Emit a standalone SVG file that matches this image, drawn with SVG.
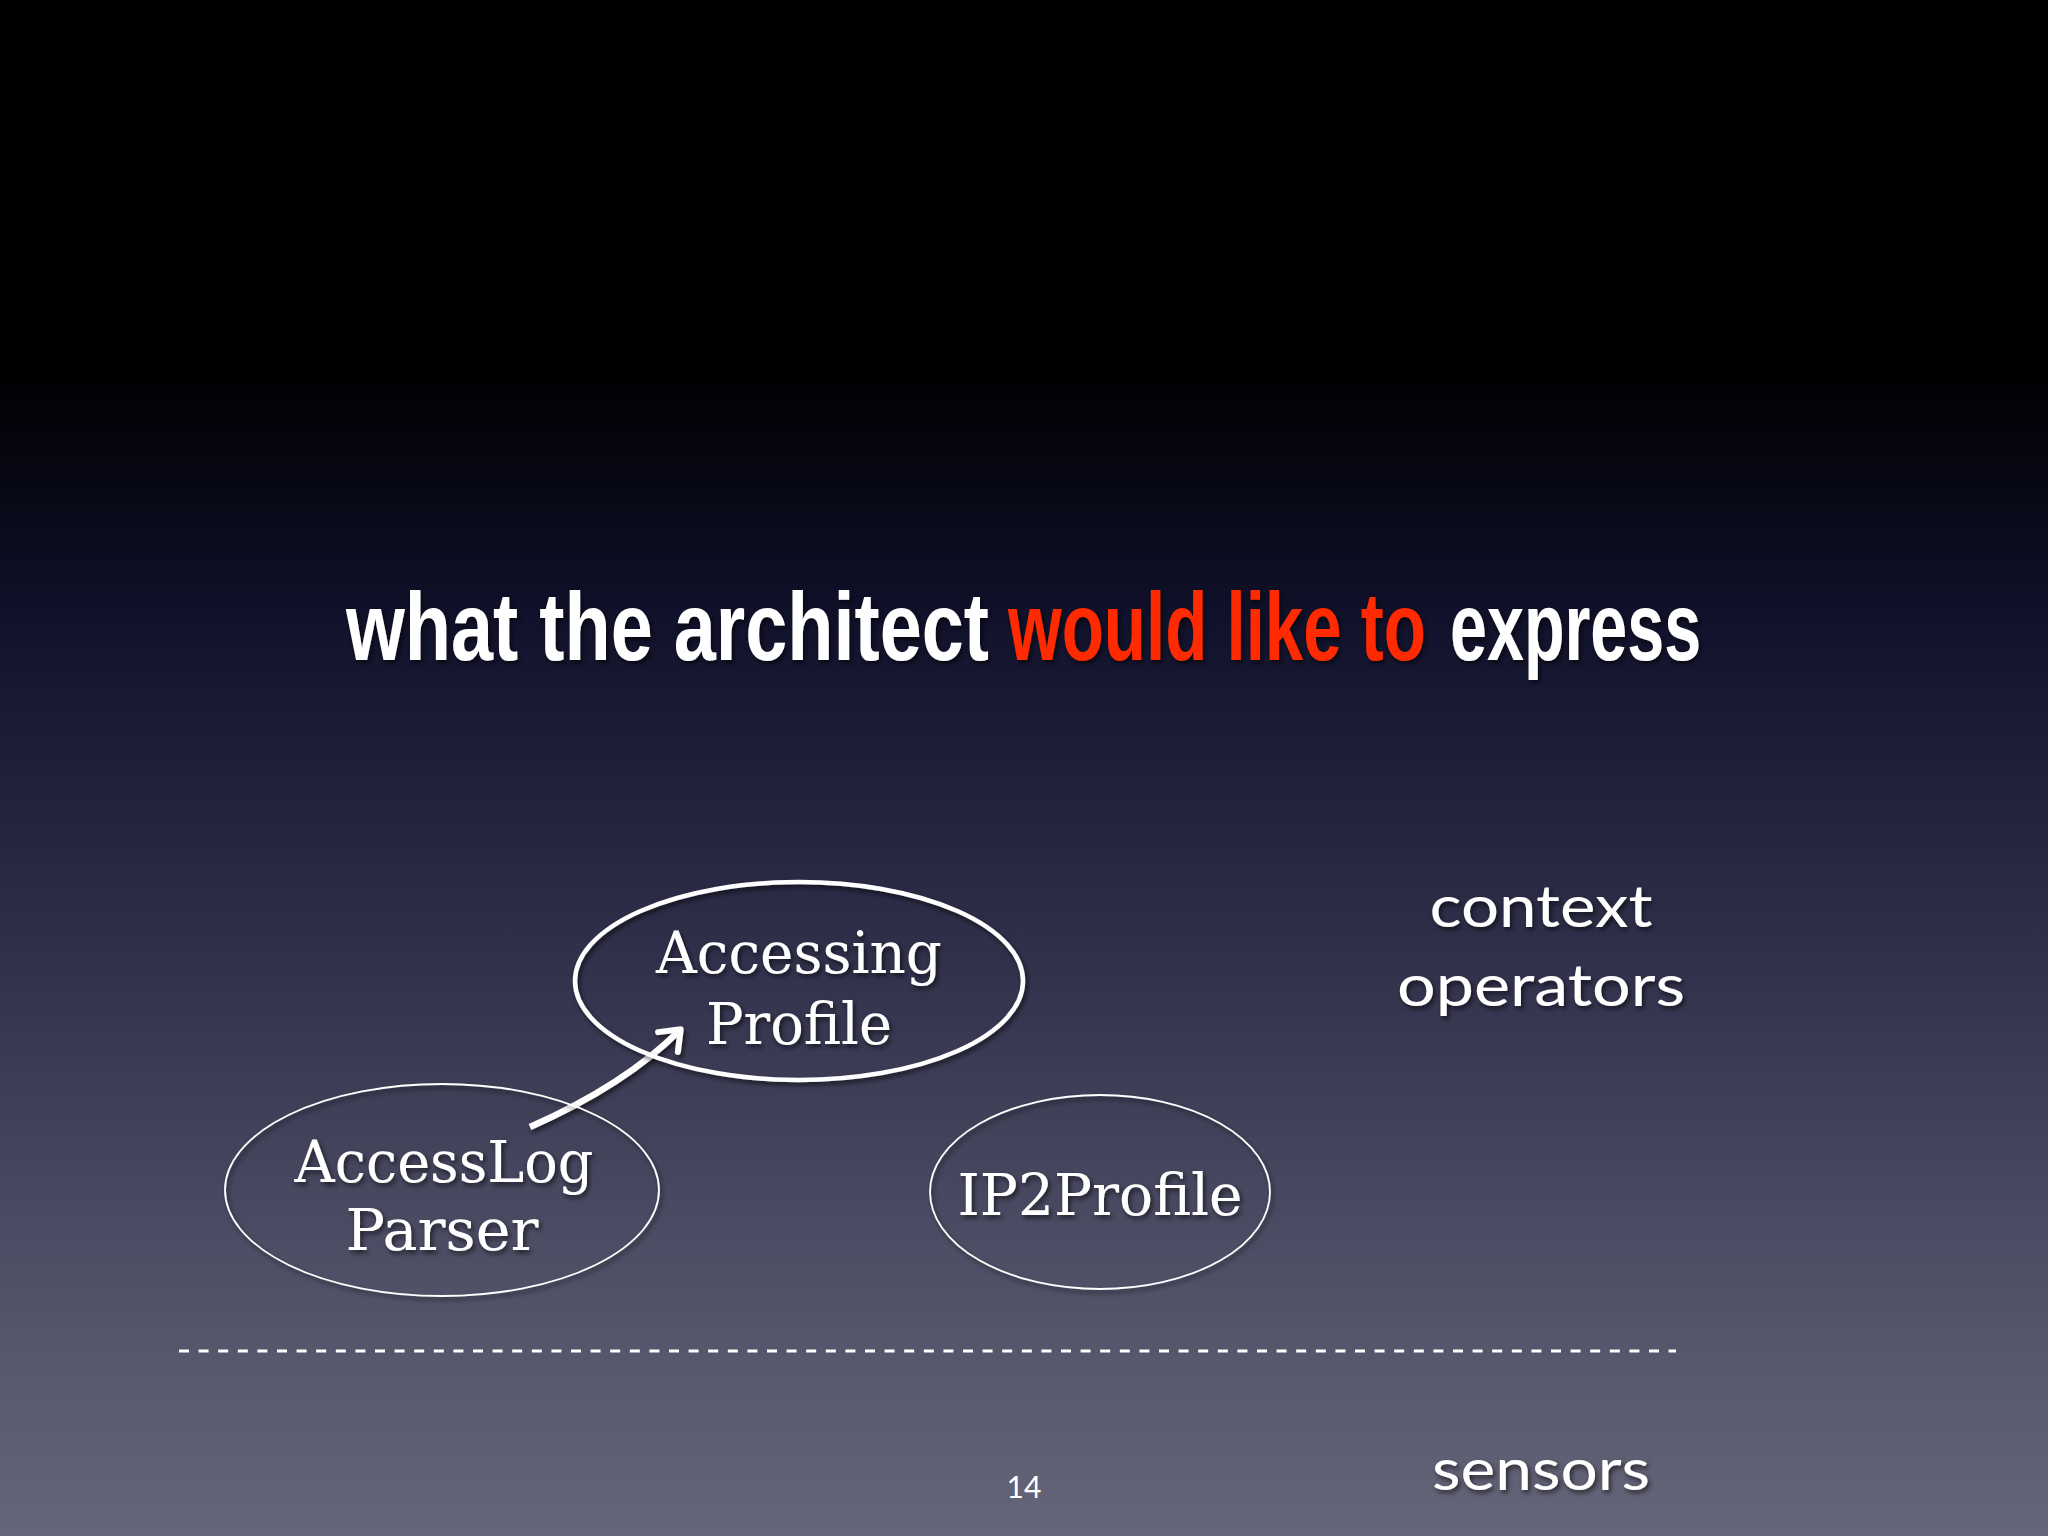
<svg xmlns="http://www.w3.org/2000/svg" width="2048" height="1536" viewBox="0 0 2048 1536">
  <defs>
    <linearGradient id="bg" x1="0" y1="0" x2="0" y2="1">
      <stop offset="0" stop-color="#000000"/>
      <stop offset="0.25" stop-color="#010104"/>
      <stop offset="0.4" stop-color="#10112a"/>
      <stop offset="0.6" stop-color="#2d2d48"/>
      <stop offset="0.8" stop-color="#4b4b63"/>
      <stop offset="1" stop-color="#66667a"/>
    </linearGradient>
    <filter id="sh" x="-10%" y="-20%" width="120%" height="140%">
      <feDropShadow dx="2" dy="3" stdDeviation="2.5" flood-color="#000" flood-opacity="0.6"/>
    </filter>
    <marker id="arr" viewBox="-30 -30 60 60" refX="0" refY="0" markerWidth="60" markerHeight="60" markerUnits="userSpaceOnUse" orient="auto" overflow="visible">
      <path d="M-17,-14 L1,0 L-17,14" fill="none" stroke="#fff" stroke-width="6" stroke-linecap="round" stroke-linejoin="round"/>
    </marker>
    <style>
      .title { font-family: "Liberation Sans", Arial, sans-serif; font-weight: bold; font-size: 96px; fill: #fff; }
      .red { fill: #ff2a00; }
      .node { fill: none; stroke: #fff; }
      .ntext { font-family: "DejaVu Serif", "Liberation Serif", serif; font-size: 58px; fill: #fff; text-anchor: middle; }
      .label { font-family: Lato, "Open Sans", sans-serif; font-size: 58px; fill: #fff; text-anchor: middle; }
      .pg { font-family: Lato, "Open Sans", sans-serif; font-size: 30px; fill: #fff; text-anchor: middle; }
    </style>
  </defs>
  <rect x="0" y="0" width="2048" height="1536" fill="url(#bg)"/>

  <g id="title" filter="url(#sh)">
    <text class="title" transform="translate(346,660) scale(0.788,1)">what the architect</text>
    <text class="title red" transform="translate(1008,660) scale(0.719,1)">would like to</text>
    <text class="title" transform="translate(1450,660) scale(0.692,1)">express</text>
  </g>

  <g id="connectors">
    <path d="M530,1127 Q625,1085 680,1030" fill="none" stroke="#fff" stroke-width="6.5" marker-end="url(#arr)" filter="url(#sh)"/>
  </g>

  <g id="accessing-profile" filter="url(#sh)">
    <ellipse class="node" cx="799" cy="981" rx="224" ry="99" stroke-width="4.5"/>
    <text class="ntext" x="799" y="973" textLength="286" lengthAdjust="spacingAndGlyphs">Accessing</text>
    <text class="ntext" x="799" y="1044" textLength="186" lengthAdjust="spacingAndGlyphs">Profile</text>
  </g>

  <g id="accesslog-parser" filter="url(#sh)">
    <ellipse class="node" cx="442" cy="1190" rx="217" ry="106" stroke-width="1.8"/>
    <text class="ntext" x="444" y="1182" textLength="299" lengthAdjust="spacingAndGlyphs">AccessLog</text>
    <text class="ntext" x="442" y="1250" textLength="193" lengthAdjust="spacingAndGlyphs">Parser</text>
  </g>

  <g id="ip2profile" filter="url(#sh)">
    <ellipse class="node" cx="1100" cy="1192" rx="170" ry="97" stroke-width="1.8"/>
    <text class="ntext" x="1100" y="1215" textLength="285" lengthAdjust="spacingAndGlyphs">IP2Profile</text>
  </g>

  <g id="layer-labels" filter="url(#sh)">
    <text class="label" x="1541" y="927" textLength="223" lengthAdjust="spacingAndGlyphs">context</text>
    <text class="label" x="1541" y="1006" textLength="288" lengthAdjust="spacingAndGlyphs">operators</text>
    <text class="label" x="1541" y="1490" textLength="218" lengthAdjust="spacingAndGlyphs">sensors</text>
  </g>

  <line id="separator" x1="179" y1="1351" x2="1676" y2="1351" stroke="#fff" stroke-width="3" stroke-dasharray="10 9.6"/>

  <text class="pg" x="1024" y="1498">14</text>
</svg>
